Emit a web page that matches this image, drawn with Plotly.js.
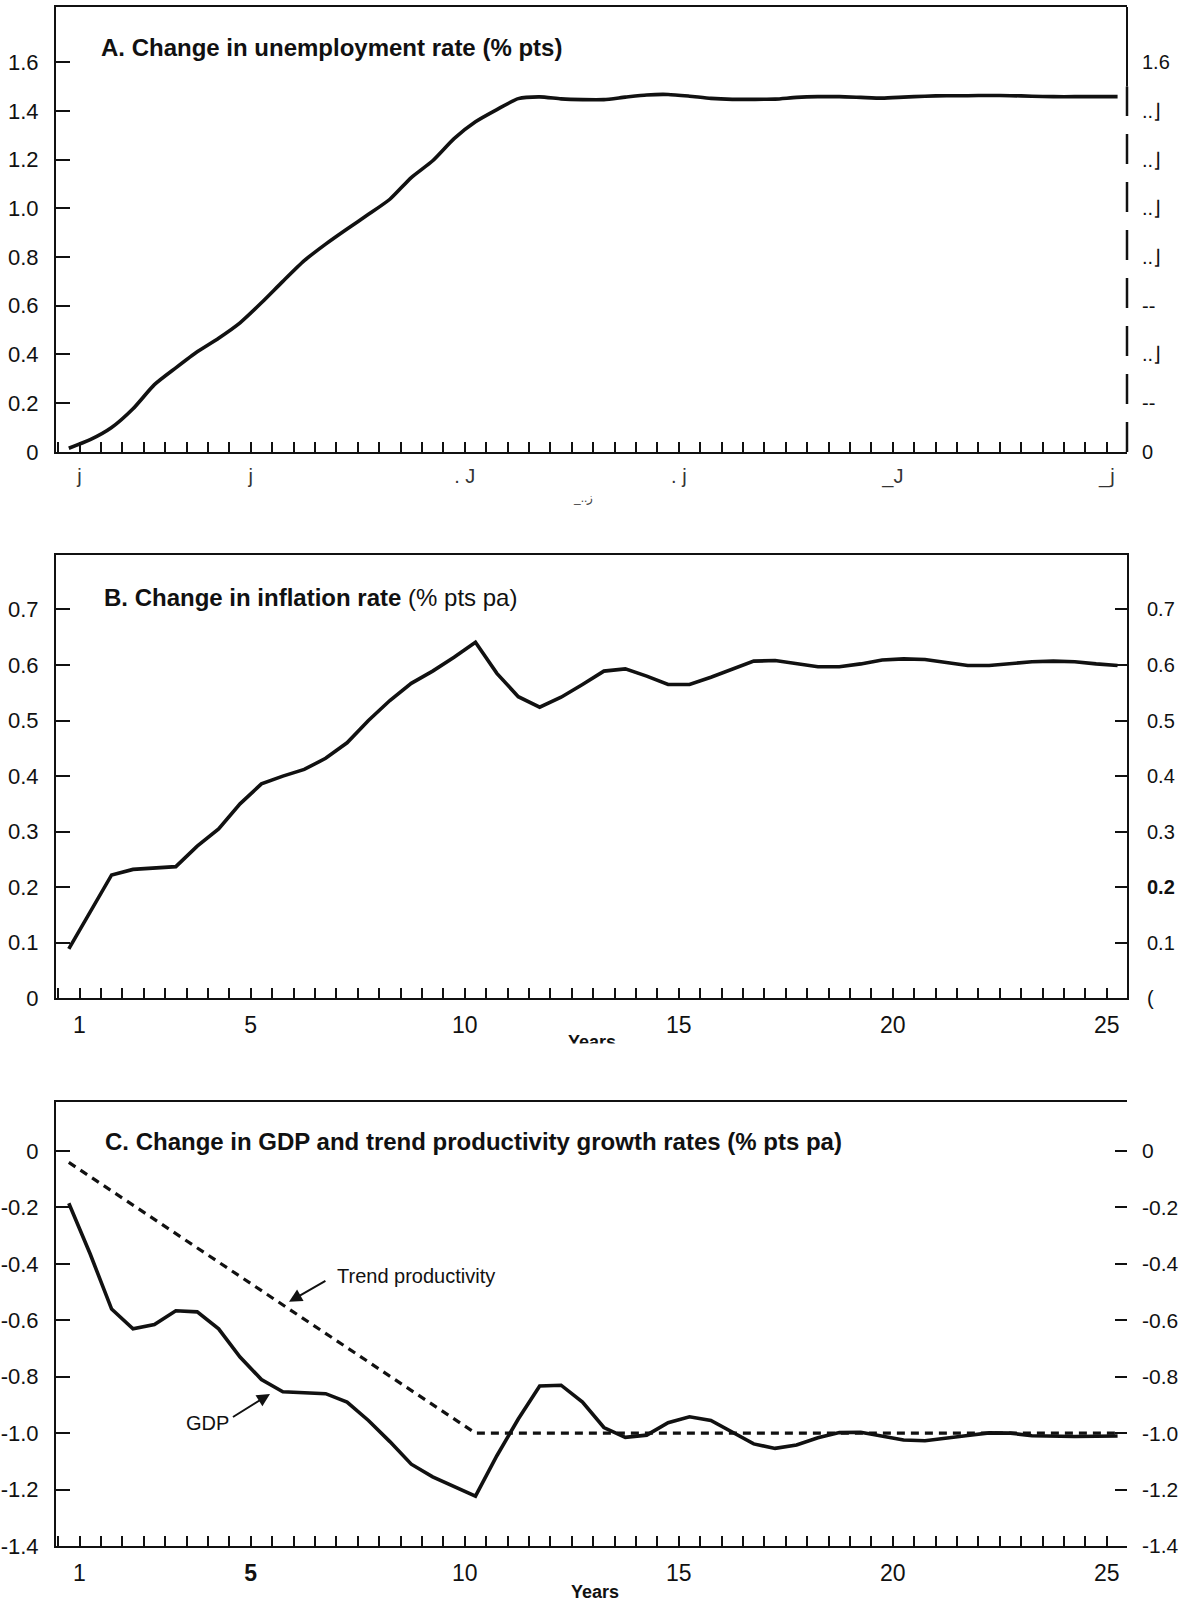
<!DOCTYPE html>
<html>
<head>
<meta charset="utf-8">
<script src="https://cdn.plot.ly/plotly-3.0.1.min.js"></script>
<style>
  html, body { margin: 0; padding: 0; background: #fff; }
  #chart { width: 1188px; height: 1604px; }
</style>
</head>
<body>
<div id="chart"></div>
<script>
// ---- Data ----
var years = [0.75,1.25,1.75,2.25,2.75,3.25,3.75,4.25,4.75,5.25,5.75,6.25,6.75,7.25,7.75,8.25,8.75,9.25,9.75,10.25,
             10.75,11.25,11.75,12.25,12.75,13.25,13.75,14.25,14.75,15.25,15.75,16.25,16.75,17.25,17.75,18.25,18.75,19.25,19.75,20.25,
             20.75,21.25,21.75,22.25,22.75,23.25,23.75,24.25,24.75,25.25];

var unemployment = [0.015,0.05,0.10,0.177,0.276,0.345,0.411,0.467,0.53,0.612,0.70,0.785,0.853,0.915,0.975,1.037,1.126,1.195,1.286,1.355,
                    1.405,1.45,1.457,1.449,1.446,1.446,1.456,1.465,1.467,1.46,1.451,1.447,1.447,1.448,1.455,1.458,1.458,1.455,1.452,1.456,
                    1.46,1.462,1.462,1.463,1.462,1.46,1.458,1.458,1.458,1.458];

var inflation = [0.089,0.157,0.222,0.232,0.235,0.237,0.274,0.305,0.35,0.386,0.40,0.412,0.432,0.46,0.50,0.536,0.567,0.589,0.614,0.641,
                 0.585,0.543,0.524,0.542,0.565,0.589,0.593,0.58,0.565,0.565,0.578,0.593,0.607,0.608,0.602,0.597,0.597,0.602,0.609,0.611,
                 0.61,0.605,0.599,0.599,0.603,0.606,0.607,0.606,0.602,0.599];

var gdp = [-0.185,-0.365,-0.56,-0.63,-0.615,-0.566,-0.57,-0.63,-0.73,-0.81,-0.853,-0.855,-0.86,-0.89,-0.955,-1.03,-1.11,-1.155,-1.19,-1.223,
           -1.08,-0.95,-0.833,-0.83,-0.89,-0.98,-1.015,-1.007,-0.963,-0.942,-0.955,-0.995,-1.038,-1.054,-1.042,-1.016,-0.998,-0.997,-1.01,-1.024,
           -1.027,-1.019,-1.008,-0.999,-1.0,-1.009,-1.012,-1.012,-1.011,-1.01];

var trendYears = [0.75, 10.25, 25.25];
var trendProd  = [-0.04, -1.0, -1.0];

var xTickVals = [1, 5, 10, 15, 20, 25];
var xTickTextB = ["1", "5", "10", "15", "20", "25"];
var xTickTextC = ["1", "<b>5</b>", "10", "15", "20", "25"];
var xTickTextA = ["j", "j", ". J", ". j", "_J", "_j"];   // scan-garbled labels in panel A

var aTickVals = [0, 0.2, 0.4, 0.6, 0.8, 1.0, 1.2, 1.4, 1.6];
var aTickText = ["0", "0.2", "0.4", "0.6", "0.8", "1.0", "1.2", "1.4", "1.6"];
var aTickTextRight = ["0", "--", "..\u230B", "--", "..\u230B", "..\u230B", "..\u230B", "..\u230B", "1.6"];

var bTickVals = [0, 0.1, 0.2, 0.3, 0.4, 0.5, 0.6, 0.7];
var bTickText = ["0", "0.1", "0.2", "0.3", "0.4", "0.5", "0.6", "0.7"];
var bTickTextRight = ["(", "0.1", "<b>0.2</b>", "0.3", "0.4", "0.5", "0.6", "0.7"];

var cTickVals = [0, -0.2, -0.4, -0.6, -0.8, -1.0, -1.2, -1.4];
var cTickText = ["0", "-0.2", "-0.4", "-0.6", "-0.8", "-1.0", "-1.2", "-1.4"];

var titleA = "<b>A. Change in unemployment rate (% pts)</b>";
var titleB = "<b>B. Change in inflation rate</b> (% pts pa)";
var titleC = "<b>C. Change in GDP and trend productivity growth rates (% pts pa)</b>";

// ---- Styling ----
var FONT = "Liberation Sans, Arial, Helvetica, sans-serif";
var INK = "#111";
var XR = [0.451, 25.47];

function xAxis(anchor, ticktext, labelColor, labelSize) {
  return {
    domain: [0, 1], anchor: anchor, range: XR,
    showline: true, linecolor: INK, linewidth: 2, mirror: true,
    tickmode: "array", tickvals: xTickVals, ticktext: ticktext,
    ticks: "inside", ticklen: 10, tickwidth: 2, tickcolor: INK,
    ticklabelstandoff: 5,
    minor: { tickmode: "linear", tick0: 1, dtick: 0.5, ticks: "inside", ticklen: 10, tickwidth: 2, tickcolor: INK, showgrid: false },
    showgrid: false, zeroline: false,
    tickfont: { family: FONT, size: labelSize, color: labelColor },
    fixedrange: true
  };
}
function yLeft(domain, anchor, range, vals, text, size) {
  return {
    domain: domain, anchor: anchor, range: range,
    showline: true, linecolor: INK, linewidth: 2,
    tickmode: "array", tickvals: vals, ticktext: text,
    ticks: "inside", ticklen: 14, tickwidth: 2, tickcolor: INK,
    ticklabelstandoff: 11,
    showgrid: false, zeroline: false,
    tickfont: { family: FONT, size: size, color: INK },
    fixedrange: true
  };
}
function yRight(overlay, anchor, range, vals, text, size, showline, ticks, fontColor) {
  return {
    overlaying: overlay, side: "right", anchor: anchor, range: range,
    showline: showline, linecolor: INK, linewidth: 2,
    tickmode: "array", tickvals: vals, ticktext: text,
    ticks: ticks, ticklen: 12, tickwidth: 2, tickcolor: INK,
    ticklabelstandoff: 14,
    showgrid: false, zeroline: false,
    tickfont: { family: FONT, size: size, color: fontColor || INK },
    fixedrange: true
  };
}

var lineStyle = { color: INK, width: 3.6 };
var ghost = { color: "rgba(0,0,0,0)", width: 0 };

var traces = [
  { x: years, y: unemployment, xaxis: "x", yaxis: "y", mode: "lines", line: Object.assign({ shape: "spline", smoothing: 0.6 }, lineStyle), hoverinfo: "skip", showlegend: false },
  { x: years, y: unemployment, xaxis: "x", yaxis: "y2", mode: "lines", line: ghost, hoverinfo: "skip", showlegend: false },

  { x: years, y: inflation, xaxis: "x2", yaxis: "y3", mode: "lines", line: lineStyle, hoverinfo: "skip", showlegend: false },
  { x: years, y: inflation, xaxis: "x2", yaxis: "y4", mode: "lines", line: ghost, hoverinfo: "skip", showlegend: false },

  { x: trendYears, y: trendProd, xaxis: "x3", yaxis: "y5", mode: "lines", line: { color: INK, width: 3.2, dash: "8px,6px" }, hoverinfo: "skip", showlegend: false },
  { x: years, y: gdp, xaxis: "x3", yaxis: "y5", mode: "lines", line: lineStyle, hoverinfo: "skip", showlegend: false },
  { x: years, y: gdp, xaxis: "x3", yaxis: "y6", mode: "lines", line: ghost, hoverinfo: "skip", showlegend: false }
];

var RA = [0, 1.826], RB = [0, 0.798], RC = [-1.4, 0.174];

var layout = {
  width: 1188, height: 1604, autosize: false,
  margin: { l: 56, r: 61, t: 7, b: 58, pad: 0 },
  paper_bgcolor: "#fff", plot_bgcolor: "#fff",
  showlegend: false,
  font: { family: FONT, color: INK },

  xaxis:  xAxis("y",  xTickTextA, "#333", 20),
  yaxis:  yLeft([0.7109, 1.0], "x", RA, aTickVals, aTickText, 22),
  yaxis2: yRight("y", "x", RA, aTickVals, aTickTextRight, 20, false, "", INK),

  xaxis2: xAxis("y3", xTickTextB, INK, 23),
  yaxis3: yLeft([0.3559, 0.6439], "x2", RB, bTickVals, bTickText, 22),
  yaxis4: yRight("y3", "x2", RB, bTickVals, bTickTextRight, 20, true, "inside"),

  xaxis3: xAxis("y5", xTickTextC, INK, 23),
  yaxis5: yLeft([0, 0.2885], "x3", RC, cTickVals, cTickText, 22),
  yaxis6: yRight("y5", "x3", RC, cTickVals, cTickText, 21, false, "inside"),

  shapes: [
    // right border of panel A (broken, as in the scan)
    { type: "line", xref: "paper", yref: "y", x0: 1, x1: 1, y0: 1.5, y1: RA[1], line: { color: INK, width: 2 } },
    { type: "line", xref: "paper", yref: "y", x0: 1, x1: 1, y0: 0, y1: 1.5, line: { color: INK, width: 2.5, dash: "30px,18px" } }
  ],

  annotations: [
    { xref: "paper", yref: "paper", x: 0.0399, y: 0.974, xanchor: "left", yanchor: "middle", text: titleA, showarrow: false, font: { family: FONT, size: 24, color: INK } },
    { xref: "paper", yref: "paper", x: 0.0425, y: 0.616, xanchor: "left", yanchor: "middle", text: titleB, showarrow: false, font: { family: FONT, size: 24, color: INK } },
    { xref: "paper", yref: "paper", x: 0.0439, y: 0.2627, xanchor: "left", yanchor: "middle", text: titleC, showarrow: false, font: { family: FONT, size: 24, color: INK } },

    // x-axis labels
    { xref: "paper", yref: "paper", x: 0.492, y: 0.681, xanchor: "center", yanchor: "middle", text: "_..\u0632", showarrow: false, font: { family: FONT, size: 12, color: "#444" } },
    { xref: "paper", yref: "paper", x: 0.5005, y: 0.3275, xanchor: "center", yanchor: "middle", text: "<b>Years</b>", showarrow: false, font: { family: FONT, size: 18, color: INK } },
    { xref: "paper", yref: "paper", x: 0.5005, y: 0.3215, xanchor: "center", yanchor: "middle", text: " ", width: 80, height: 12, bgcolor: "#fff", showarrow: false, font: { family: FONT, size: 8, color: "#fff" } },
    { xref: "paper", yref: "paper", x: 0.503, y: -0.0299, xanchor: "center", yanchor: "middle", text: "<b>Years</b>", showarrow: false, font: { family: FONT, size: 18, color: INK } },

    // labels in panel C
    { xref: "paper", yref: "paper", x: 0.2605, y: 0.1754, xanchor: "left", yanchor: "middle", text: "Trend productivity", showarrow: false, font: { family: FONT, size: 20, color: INK } },
    { xref: "paper", yref: "paper", x: 0.1415, y: 0.0801, xanchor: "center", yanchor: "middle", text: "GDP", showarrow: false, font: { family: FONT, size: 20, color: INK } },

    // arrows
    { xref: "x3", yref: "y5", axref: "x3", ayref: "y5", x: 5.895, y: -0.534, ax: 6.78, ay: -0.457, text: "", showarrow: true, arrowhead: 2, arrowsize: 1.3, arrowwidth: 2, arrowcolor: INK },
    { xref: "x3", yref: "y5", axref: "x3", ayref: "y5", x: 5.45, y: -0.861, ax: 4.55, ay: -0.946, text: "", showarrow: true, arrowhead: 2, arrowsize: 1.3, arrowwidth: 2, arrowcolor: INK }
  ]
};

Plotly.newPlot("chart", traces, layout, { staticPlot: true, displayModeBar: false });
</script>
</body>
</html>
